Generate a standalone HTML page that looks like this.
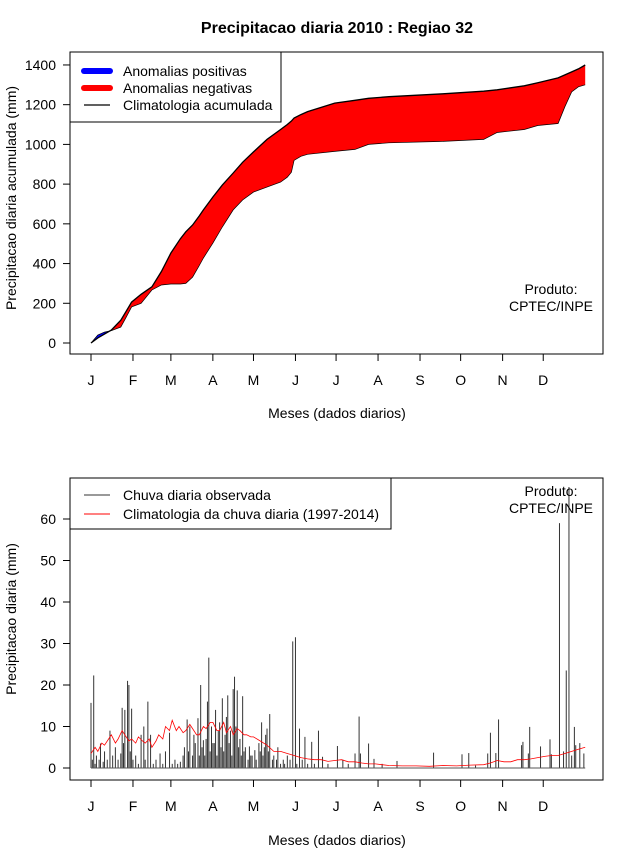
<!DOCTYPE html>
<html><head><meta charset="utf-8">
<style>
html,body{margin:0;padding:0;background:#fff;}
svg{display:block;font-family:"Liberation Sans",sans-serif;}
</style></head>
<body>
<svg id="chart" width="640" height="850" viewBox="0 0 640 850">
<text x="337" y="33" text-anchor="middle" font-size="16" font-weight="bold">Precipitacao diaria 2010 : Regiao 32</text>
<g id="p1"></g>
<g id="p2"></g>
</svg>
<script>
// ---- Data ----
const months = ["J","F","M","A","M","J","J","A","S","O","N","D"];
const monthStartDays = [0,31,59,90,120,151,181,212,243,273,304,334];
const cumDays = [0,5,10,15,22,26,30,37,45,52,59,66,70,75,80,83,90,97,105,112,120,130,140,145,148,150,155,160,180,195,205,220,260,290,300,320,330,345,350,355,360,365];
const climCum = [0,25,45,65,115,160,206,245,283,360,453,525,560,594,640,670,735,795,856,910,962,1025,1075,1100,1118,1133,1150,1165,1208,1222,1232,1240,1255,1268,1275,1295,1310,1335,1350,1365,1380,1400];
const obsCum = [0,40,55,62,80,130,182,200,267,292,297,297,300,332,390,428,503,584,670,720,760,785,810,835,860,920,940,950,965,975,1000,1008,1015,1025,1060,1075,1095,1105,1190,1265,1290,1300];
const yTicks1 = [0,200,400,600,800,1000,1200,1400];

const rainDays = [0,1,2,3,4,6,7,9,10,12,14,16,18,20,22,23,24,25,27,28,29,30,31,33,35,37,39,40,42,44,46,48,51,53,55,58,60,62,64,66,68,69,71,72,73,75,76,77,79,80,81,82,83,84,85,86,87,88,89,90,91,92,93,94,95,96,97,98,99,100,101,102,103,104,105,106,107,108,109,110,111,112,113,114,116,117,118,119,121,122,124,125,126,127,128,129,130,131,132,134,135,137,138,140,142,143,145,147,149,151,152,154,156,158,160,163,165,168,171,175,182,186,190,195,198,199,205,209,215,226,253,274,279,284,293,295,299,301,318,319,323,324,332,339,340,346,349,351,353,355,357,358,361,364];
const rainVals = [15.7,2,22.3,1,3,2,5.9,1.5,4,2,9,3,5,2,3.5,14.5,6,14,21,20,4,14.3,2,3,1,8,10,2,16,8,1,2,3.5,1,4,8.5,1,2,1,1.5,3,5,11.7,4,10,3,8,6,12,3,20,5,6.7,3,7,16,26.6,4,10,6,6,14,3,9,11,5,16.8,4,8,12.3,17.5,6,9,3,19,22,10,18.7,5,7,3,17.3,4,5,2,5.2,3,3,4.3,2,6,4,11,3,5,8,9.5,4,13,2,3,2,5,1,2,1,3,2,30.5,31.5,1,9.5,2,7.5,1,6.3,1,9,2.7,1,5.3,2,1,3.5,12.4,3.5,5.9,2.2,1,1.7,3.7,3.3,3.6,0.6,3.5,8.5,3.6,11.7,5.5,6.3,3.5,9.9,5.2,6.9,3.3,59,4,23.5,67.7,3,9.9,5.5,6,3.5];
const climDailyDays = [0,3,5,8,10,13,15,18,20,23,25,28,30,33,35,38,40,43,45,48,50,53,55,58,60,63,65,68,70,73,75,78,80,83,85,88,90,93,95,98,100,103,105,108,110,113,115,118,120,125,130,135,140,145,150,155,160,165,170,175,180,185,190,195,200,205,210,215,220,230,240,250,260,270,280,290,295,300,305,310,315,320,325,330,335,340,345,350,355,360,365];
const climDaily = [3.5,5,4,6,5.5,7,8,6,7,9,8,6.5,7,6,7.5,6.5,6,7,5,6.5,8,7,10,9,11.5,9,10,8.5,9,10.5,9.5,8,8,10,9.5,11,11,9,9,11,8.5,10,8,9.5,9,8,8,7.5,7.5,6.5,5.5,4,4,3.5,3,2.5,2.2,2,2,1.6,1.8,2,1.5,1.5,1.2,1,1,0.8,0.6,0.5,0.5,0.4,0.6,0.5,0.7,0.8,1.2,1.8,1.5,1.5,2,2,2.2,2.5,2.8,3,3,3.5,4,4.5,5];
const yTicks2 = [0,10,20,30,40,50,60];

const NS="http://www.w3.org/2000/svg";
function mk(parent,tag,attrs){const e=document.createElementNS(NS,tag);for(const k in attrs)e.setAttribute(k,attrs[k]);parent.appendChild(e);return e;}
const xDay = d => 91 + d*1.354;

function drawAxes(g, top, bottom, yScale, yTicks, yTitle, ytitleY, xLabelY) {
  const box = mk(g,'rect',{x:70,y:top,width:533,height:bottom-top,fill:'none',stroke:'#000','stroke-width':1});
  
  
  monthStartDays.forEach((d,i)=>{
    const x=xDay(d);
    const t=mk(g,'line',{x1:x,x2:x,y1:bottom,y2:bottom+7,stroke:'#000'});
    
    
    const l=mk(g,'text',{x:x,y:bottom+31,'text-anchor':'middle','font-size':14});
    l.textContent=months[i];
    
    
  });
  yTicks.forEach(v=>{
    const y=yScale(v);
    const t=mk(g,'line',{x1:63,x2:70,y1:y,y2:y,stroke:'#000'});
    
    
    const l=mk(g,'text',{x:56,y:y+5,'text-anchor':'end','font-size':14});
    l.textContent=v;
    
    
  });
  const yt=mk(g,'text',{x:0,y:0,'text-anchor':'middle','font-size':14,transform:`translate(16,${ytitleY}) rotate(-90)`});
  yt.textContent=yTitle;
  
  
  const xt=mk(g,'text',{x:337,y:xLabelY,'text-anchor':'middle','font-size':14});
  xt.textContent='Meses (dados diarios)';
  
  
  const p1=mk(g,'text',{x:551,y:top+(top<100?242:18),'text-anchor':'middle','font-size':14});
  p1.textContent='Produto:';
  
  
  const p2=mk(g,'text',{x:551,y:top+(top<100?259:35),'text-anchor':'middle','font-size':14});
  p2.textContent='CPTEC/INPE';
  
  
}

// ---- Panel 1 ----
const g1=document.getElementById('p1');
const y1 = v => 343 - v*0.1986;
const climPts = cumDays.map((d,i)=>[xDay(d),y1(climCum[i])]);
const obsPts = cumDays.map((d,i)=>[xDay(d),y1(obsCum[i])]);
const minPts = cumDays.map((d,i)=>[xDay(d),y1(Math.min(obsCum[i],climCum[i]))]);
const maxPts = cumDays.map((d,i)=>[xDay(d),y1(Math.max(obsCum[i],climCum[i]))]);
const ps = a => a.map(p=>p[0].toFixed(1)+','+p[1].toFixed(1)).join(' ');
const red=mk(g1,'polygon',{points:ps(climPts)+' '+ps(minPts.slice().reverse()),fill:'#ff0000',stroke:'none'});


const blue=mk(g1,'polygon',{points:ps(maxPts)+' '+ps(climPts.slice().reverse()),fill:'#0000ff',stroke:'none'});


const ol=mk(g1,'polyline',{points:ps(obsPts),fill:'none',stroke:'#000','stroke-width':0.7});


const cl=mk(g1,'polyline',{points:ps(climPts),fill:'none',stroke:'#000','stroke-width':1.3});


drawAxes(g1,52,354,y1,yTicks1,'Precipitacao diaria acumulada (mm)',198,418);

const lg1=mk(g1,'g',{});


mk(lg1,'rect',{x:70,y:52,width:211,height:70,fill:'#fff',stroke:'#000'});
[['Anomalias positivas','#0000ff',6,76],['Anomalias negativas','#ff0000',6,93],['Climatologia acumulada','#000',1.3,110]].forEach(e=>{
  const it=mk(lg1,'g',{});
  
  
  mk(it,'line',{x1:84,x2:110,y1:e[3]-5,y2:e[3]-5,stroke:e[1],'stroke-width':e[2],'stroke-linecap':e[2]>2?'round':'butt'});
  const t=mk(it,'text',{x:123,y:e[3],'font-size':14});t.textContent=e[0];
});

// ---- Panel 2 ----
const g2=document.getElementById('p2');
const y2 = v => 768 - v*4.15;
rainDays.forEach((d,i)=>{
  const b=mk(g2,'line',{x1:xDay(d),x2:xDay(d),y1:y2(0),y2:y2(rainVals[i]),stroke:'#333','stroke-width':1});
  
  
});
const base=mk(g2,'line',{x1:xDay(0),x2:xDay(365),y1:y2(0),y2:y2(0),stroke:'#555'});


const cd=mk(g2,'polyline',{points:climDailyDays.map((d,i)=>xDay(d).toFixed(1)+','+y2(climDaily[i]).toFixed(1)).join(' '),fill:'none',stroke:'#ff0000','stroke-width':0.8});


drawAxes(g2,478,780,y2,yTicks2,'Precipitacao diaria (mm)',619,845);

const lg2=mk(g2,'g',{});


mk(lg2,'rect',{x:70,y:478,width:321,height:51,fill:'#fff',stroke:'#000'});
[['Chuva diaria observada','#333',500],['Climatologia da chuva diaria (1997-2014)','#ff0000',519]].forEach(e=>{
  const it=mk(lg2,'g',{});
  
  
  mk(it,'line',{x1:84,x2:110,y1:e[2]-5,y2:e[2]-5,stroke:e[1],'stroke-width':1});
  const t=mk(it,'text',{x:123,y:e[2],'font-size':14});t.textContent=e[0];
});
</script>
</body></html>
